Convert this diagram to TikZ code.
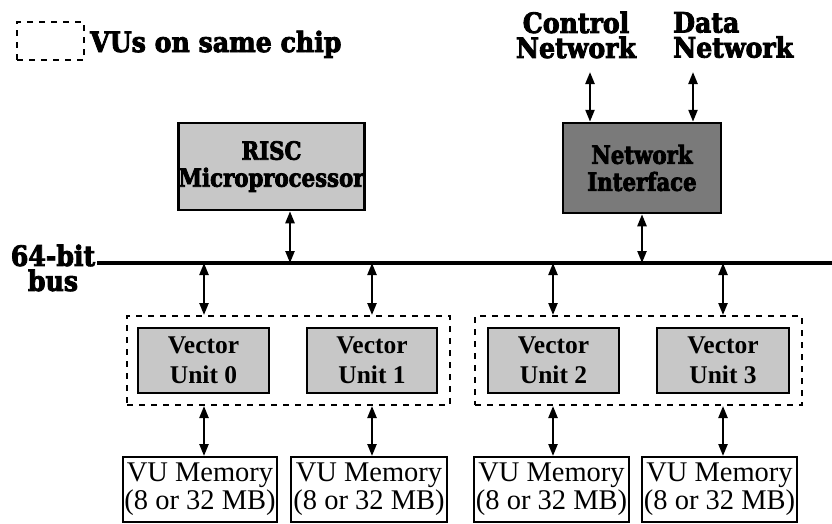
\documentclass[tikz,border=0pt]{standalone}
\usepackage{fontspec}
\setmainfont{Liberation Serif}
\newfontfamily\heavy[FakeStretch=0.9,FakeBold=3]{DejaVu Serif}
\newfontfamily\boxheavy[FakeStretch=0.85,FakeBold=3]{DejaVu Serif}
\usetikzlibrary{arrows.meta}
\begin{document}
\begin{tikzpicture}[x=1pt,y=-1pt,
  lbl/.style={inner sep=0pt, align=center, font=\heavy\bfseries\fontsize{28}{25}\selectfont},
  bigbox/.style={draw, line width=2.5pt, inner sep=0pt, align=center,
    font=\boxheavy\bfseries\fontsize{25}{27}\selectfont},
  procbox/.style={bigbox, fill=black!22},
  netbox/.style={bigbox, fill=black!52},
  vubox/.style={draw, line width=2.5pt, fill=black!22, inner sep=0pt, align=center,
    minimum height=65pt, font=\bfseries\fontsize{25.5}{30}\selectfont},
  membox/.style={draw, line width=2pt, inner sep=0pt, align=center,
    minimum height=65pt, font=\fontsize{28.5}{28}\selectfont},
  chipbox/.style={draw, dash pattern=on 6pt off 6pt, line width=2pt, inner sep=0pt},
  link/.style={line width=2.3pt, {Triangle[length=12pt,width=9pt]}-{Triangle[length=12pt,width=9pt]}},
  busline/.style={line width=4pt}
]
\useasboundingbox (0,0) rectangle (832,523);

% legend
\node[chipbox, minimum width=67pt, minimum height=38pt] (legend) at (50.5,41) {};
\node[lbl, anchor=base west] (legendtxt) at (90,52) {VUs on same chip};

% network labels
\node[lbl] (ctl) at (576,35) {Control\\Network};
\node[lbl, align=left, anchor=west] (dat) at (673,35) {Data\\Network};

% processor and network interface
\node[procbox, minimum width=183pt, minimum height=87pt] (risc) at (271.5,166.5) {RISC\\Microprocessor};
\node[netbox, minimum width=158pt, minimum height=90pt] (ni) at (642,168) {Network\\Interface};

% bus
\node[lbl] (buslbl) at (53,268) {64-bit\\bus};
\coordinate (busL) at (97,263);
\coordinate (busR) at (832,263);
\draw[busline] (busL) -- (busR);

% taps on the bus
\coordinate (t1) at (290,263);
\coordinate (t2) at (642,263);
\coordinate (v0) at (204,263);
\coordinate (v1) at (372,263);
\coordinate (v2) at (553,263);
\coordinate (v3) at (723,263);
\coordinate (c1) at (590,72);
\coordinate (d1) at (693,72);

% chips
\node[chipbox, minimum width=323pt, minimum height=89pt] (chipA) at (288.5,360.5) {};
\node[chipbox, minimum width=327pt, minimum height=89pt] (chipB) at (638.5,360.5) {};

% vector units
\node[vubox, minimum width=131pt] (vu0) at (203.5,360.5) {Vector\\Unit 0};
\node[vubox, minimum width=130pt] (vu1) at (372,360.5) {Vector\\Unit 1};
\node[vubox, minimum width=131pt] (vu2) at (553.5,360.5) {Vector\\Unit 2};
\node[vubox, minimum width=132pt] (vu3) at (723,360.5) {Vector\\Unit 3};

% memories
\node[membox, minimum width=154pt] (mem0) at (200,489.5) {VU Memory\\(8 or 32 MB)};
\node[membox, minimum width=156pt] (mem1) at (369,489.5) {VU Memory\\(8 or 32 MB)};
\node[membox, minimum width=155pt] (mem2) at (551.5,489.5) {VU Memory\\(8 or 32 MB)};
\node[membox, minimum width=155pt] (mem3) at (719.5,489.5) {VU Memory\\(8 or 32 MB)};

% connectors
\draw[link] (c1) -- (c1 |- ni.north);
\draw[link] (d1) -- (d1 |- ni.north);
\draw[link] (t1 |- risc.south) -- (t1);
\draw[link] (t2 |- ni.south) -- (t2);
\draw[link] (v0) -- (v0 |- chipA.north);
\draw[link] (v1) -- (v1 |- chipA.north);
\draw[link] (v2) -- (v2 |- chipB.north);
\draw[link] (v3) -- (v3 |- chipB.north);
\draw[link] (v0 |- chipA.south) -- (v0 |- mem0.north);
\draw[link] (v1 |- chipA.south) -- (v1 |- mem1.north);
\draw[link] (v2 |- chipB.south) -- (v2 |- mem2.north);
\draw[link] (v3 |- chipB.south) -- (v3 |- mem3.north);
\end{tikzpicture}
\end{document}
